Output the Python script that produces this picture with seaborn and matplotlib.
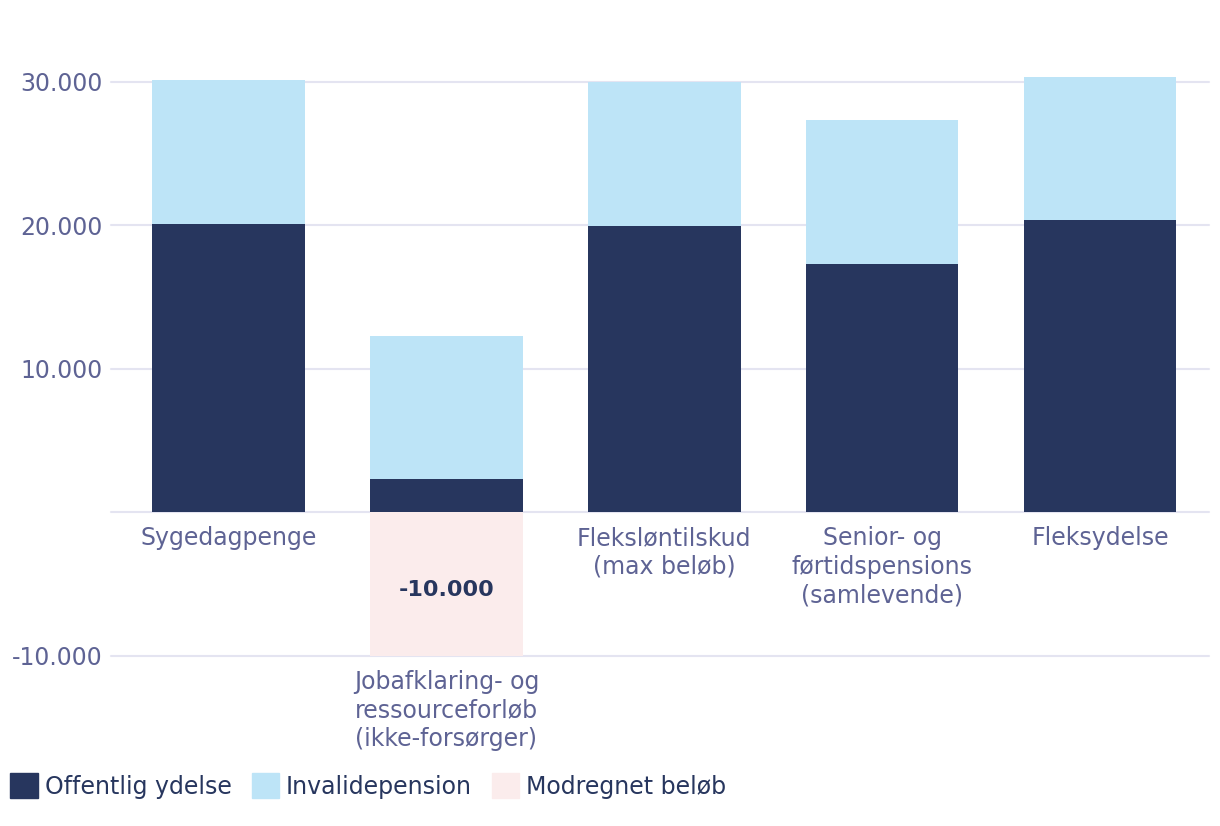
import pandas as pd
import matplotlib
matplotlib.use("Agg")
import matplotlib.pyplot as plt
import matplotlib.patches as mpatches
import seaborn as sns

# data
kategorier = ["Sygedagpenge",
              "Jobafklaring- og\nressourceforløb\n(ikke-forsørger)",
              "Fleksløntilskud\n(max beløb)",
              "Senior- og\nførtidspensions\n(samlevende)",
              "Fleksydelse"]
offentlig = [20100, 2300, 19950, 17300, 20350]
invalide = [10000, 10000, 10050, 10000, 9950]
modregnet = [0, -10000, 0, 0, 0]
ytick_vaerdier = [-10000, 0, 10000, 20000, 30000]
ytick_tekster = ["-10.000", "", "10.000", "20.000", "30.000"]

MORK = "#27365e"
LYS = "#bde4f7"
ROSA = "#fbecec"
TEKST = "#5e6394"

sns.set_theme(style="white")
plt.rcParams["font.family"] = ["DejaVu Sans"]

df = pd.DataFrame({"kategori": kategorier, "offentlig": offentlig,
                   "invalide": invalide, "modregnet": modregnet})
df["total"] = df["offentlig"] + df["invalide"]

fig = plt.figure(figsize=(12.2, 8.26), dpi=100)
ax = fig.add_axes([0.098, 0.206, 0.893, 0.730])

sns.barplot(data=df, x="kategori", y="total", color=LYS, width=0.7,
            saturation=1, ax=ax, zorder=3)
sns.barplot(data=df, x="kategori", y="offentlig", color=MORK, width=0.7,
            saturation=1, ax=ax, zorder=3)
sns.barplot(data=df, x="kategori", y="modregnet", color=ROSA, width=0.7,
            saturation=1, ax=ax, zorder=3)
for p in ax.patches:
    p.set_linewidth(0)

ax.set_ylim(-10000, 32000)
ax.set_xlim(-0.5, 4.5)
ax.set_yticks(ytick_vaerdier)
ax.set_yticklabels(ytick_tekster)
ax.tick_params(axis="y", length=0, pad=12, labelsize=17, labelcolor=TEKST)
ax.set_xticks([])
ax.set_xlabel("")
ax.set_ylabel("")
for y in ytick_vaerdier:
    ax.axhline(y, color="#e4e4f1", lw=1.5, zorder=1, xmin=-0.008, clip_on=False)
for s in ax.spines.values():
    s.set_visible(False)

# category labels under each bar bottom
for i, row in df.iterrows():
    bund = min(0, row["modregnet"])
    ax.annotate(row["kategori"], (i, bund), xytext=(0, -10),
                textcoords="offset points", ha="center", va="top",
                fontsize=17, color=TEKST, linespacing=1.24,
                annotation_clip=False)
    if row["modregnet"] < 0:
        ax.text(i, row["modregnet"] / 2 - 400,
                f"{row['modregnet']:,}".replace(",", "."),
                ha="center", va="center", fontsize=16,
                fontweight="bold", color=MORK, zorder=4)

handles = [mpatches.Patch(color=MORK, label="Offentlig ydelse"),
           mpatches.Patch(color=LYS, label="Invalidepension"),
           mpatches.Patch(color=ROSA, label="Modregnet beløb")]
leg = fig.legend(handles=handles, loc="lower left", bbox_to_anchor=(-0.005, 0.013),
                 ncol=3, frameon=False, fontsize=17, handlelength=1.15,
                 handleheight=1.25, handletextpad=0.3, columnspacing=0.85,
                 borderaxespad=0.3)
for t in leg.get_texts():
    t.set_color(MORK)

fig.savefig("out.png", dpi=100, facecolor="white")
